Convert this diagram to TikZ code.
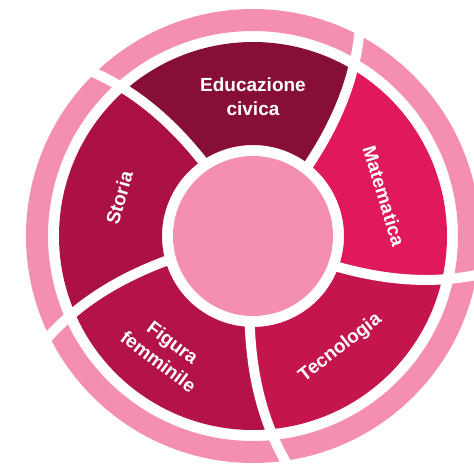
\documentclass[tikz,border=0pt]{standalone}
\usepackage{fontspec}
\setmainfont{Liberation Sans}
\definecolor{pinkc}{HTML}{F48FB1}
\definecolor{educ}{HTML}{870E37}
\definecolor{mate}{HTML}{E0185C}
\definecolor{tecn}{HTML}{C4154D}
\definecolor{figu}{HTML}{B41349}
\definecolor{stor}{HTML}{AB1243}
\begin{document}
\begin{tikzpicture}[x=1pt,y=1pt,
  declare function={f(\r)=0.05*(\r-91)+(0.013416*(\r-91))^2;},
  lbl/.style={text=white,font=\bfseries\fontsize{19}{24}\selectfont,align=center,inner sep=0pt},
  sepline/.style={white,line width=10}]
\useasboundingbox (-253,-228) rectangle (221,236);
\clip (-253,-228) rectangle (221,236);
% outer ring
\fill[pinkc,even odd rule] (0,0) circle[radius=227] (0,0) circle[radius=205];
% segments
\foreach \a/\c in {-20/mate,52/educ,124/stor,196/figu,268/tecn}{
  \fill[\c] plot[domain=91:194,samples=30] ({\a+f(\x)}:\x)
    arc[start angle={\a+f(194)},end angle={\a+72+f(194)},radius=194]
    -- plot[domain=194:91,samples=30] ({\a+72+f(\x)}:\x)
    arc[start angle={\a+72},end angle=\a,radius=91] -- cycle;
}
% separators
\foreach \a in {-20,52,124,196,268}{
  \draw[sepline] plot[domain=84:240,samples=40] ({\a+f(\x)}:\x);
}
% centre
\fill[pinkc] (0,0) circle[radius=80];
% labels
\node[lbl] (educt) at (90:139) {Educazione\\civica};
\node[lbl,rotate=-73] (matt) at (17:137) {Matematica};
\node[lbl,rotate=38] (tect) at (-52:142) {Tecnologia};
\node[lbl,rotate=-37] (figt) at (-127:145) {Figura\\femminile};
\node[lbl,rotate=74] (stot) at (164:139) {Storia};
\end{tikzpicture}
\end{document}
